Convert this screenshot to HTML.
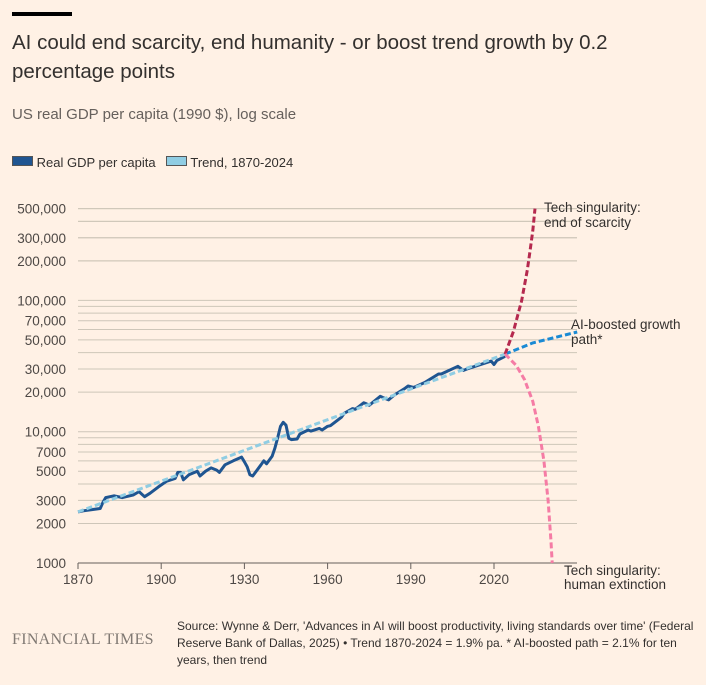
<!DOCTYPE html>
<html><head><meta charset="utf-8">
<style>
body{margin:0;background:#fff1e5;font-family:"Liberation Sans",sans-serif;color:#33302e}
#wrap{position:relative;width:706px;height:685px;overflow:hidden}
.t{position:absolute;white-space:nowrap}
</style></head><body>
<div id="wrap">
<div class="t" style="left:12px;top:12px;width:60px;height:4px;background:#000"></div>
<div class="t" style="left:12px;top:28px;font-size:20.5px;line-height:29px;color:#33302e;white-space:normal;width:660px">AI could end scarcity, end humanity - or boost trend growth by 0.2 percentage points</div>
<div class="t" style="left:12px;top:106px;font-size:15px;color:#66605c">US real GDP per capita (1990 $), log scale</div>
<div class="t" style="left:12px;top:155px;font-size:13px"><span style="display:inline-block;width:19px;height:8px;background:#1f5591;border:1px solid #555;vertical-align:1px"></span> Real GDP per capita</div>
<div class="t" style="left:166px;top:155px;font-size:13px"><span style="display:inline-block;width:19px;height:8px;background:#90cde3;border:1px solid #555;vertical-align:1px"></span> Trend, 1870-2024</div>
<svg id="chart" width="706" height="600" style="position:absolute;left:0;top:0"></svg>
<div class="t" style="left:12px;top:631px;font-family:'Liberation Serif',serif;font-size:16px;color:#807973;letter-spacing:0.3px">FINANCIAL TIMES</div>
<div class="t" style="left:177px;top:618px;width:525px;white-space:normal;font-size:12px;line-height:17px;color:#33302e">Source: Wynne &amp; Derr, 'Advances in AI will boost productivity, living standards over time' (Federal Reserve Bank of Dallas, 2025) • Trend 1870-2024 = 1.9% pa. * AI-boosted path = 2.1% for ten years, then trend</div>
</div>
<script>
const years=[1870,1872,1875,1878,1879,1880,1883,1886,1890,1892,1894,1896,1899,1902,1905,1906,1907,1908,1910,1913,1914,1916,1918,1920,1921,1923,1926,1929,1930,1931,1932,1933,1936,1937,1938,1940,1941,1942,1943,1944,1945,1946,1947,1949,1950,1953,1954,1957,1958,1960,1961,1965,1966,1969,1970,1973,1974,1975,1979,1980,1982,1984,1988,1989,1991,1995,2000,2001,2007,2009,2010,2019,2020,2021,2024];
const gdp=[2450,2500,2550,2600,2900,3150,3250,3150,3300,3500,3200,3400,3800,4200,4400,4900,4900,4300,4700,5000,4600,5000,5300,5100,4900,5600,6000,6400,5900,5400,4700,4600,5600,6000,5700,6500,7500,9000,11000,11800,11200,8900,8700,8800,9600,10300,10100,10600,10300,11000,11100,12900,13800,15000,14800,16600,16300,15900,18600,18200,17500,19000,21500,22300,21700,23700,27500,27500,31500,29300,29900,34500,32500,34800,37500];
const trendYears=[1870,2024];
const trendVals=[2450,39000];
const aiYears=[2024,2034,2050];
const aiVals=[39000,47500,57500];
const upYears=[2024,2027,2030,2032,2033,2034,2034.8];
const upVals=[39000,58000,100000,170000,240000,340000,500000];
const downYears=[2024,2028,2031,2034,2036,2038,2039.5,2040.5,2041];
const downVals=[39000,32000,25000,17000,11000,6000,3000,1500,1000];
const yTicks=[1000,2000,3000,5000,7000,10000,20000,30000,50000,70000,100000,200000,300000,500000];
const yTickLabels=["1000","2000","3000","5000","7000","10,000","20,000","30,000","50,000","70,000","100,000","200,000","300,000","500,000"];
const xTicks=[1870,1900,1930,1960,1990,2020];

const L=78,R=577,Y0=563;
const x=v=>L+(v-1870)*(494-78)/150;
const y=v=>Y0-Math.log10(v/1000)*131.3;
const svg=document.getElementById('chart');
const NS='http://www.w3.org/2000/svg';
function mk(tag,at){const e=document.createElementNS(NS,tag);for(const k in at)e.setAttribute(k,at[k]);svg.appendChild(e);return e;}
for(let d=1000;d<=100000;d*=10){for(let m=1;m<=9;m++){const v=d*m;if(v>500000)break;if(v===1000)continue;
 const g=mk('line',{x1:L,x2:R,y1:y(v),y2:y(v),stroke:'#cec6b9','stroke-width':1});
 }}
for(let m=2;m<=5;m++){const v=100000*m;const g=mk('line',{x1:L,x2:R,y1:y(v),y2:y(v),stroke:'#cec6b9','stroke-width':1});
 }
yTicks.forEach((v,i)=>{const t=mk('text',{x:66,y:y(v)+5,'text-anchor':'end','font-size':13.5,fill:'#4d4845','font-family':'Liberation Sans, sans-serif'});t.textContent=yTickLabels[i];
 });
const ax=mk('line',{x1:L,x2:R,y1:Y0,y2:Y0,stroke:'#66605c','stroke-width':1});

xTicks.forEach(v=>{const tk=mk('line',{x1:x(v),x2:x(v),y1:Y0,y2:Y0+6,stroke:'#66605c'});
 
 const t=mk('text',{x:x(v),y:Y0+21,'text-anchor':'middle','font-size':13.5,fill:'#4d4845','font-family':'Liberation Sans, sans-serif'});t.textContent=v;
 });
function path(xs,vs){return xs.map((a,i)=>(i?'L':'M')+x(a).toFixed(1)+','+y(vs[i]).toFixed(1)).join('');}
const g1=mk('path',{d:path(years,gdp),fill:'none',stroke:'#1f5591','stroke-width':3,'stroke-linejoin':'round'});

const t1=mk('path',{d:path(trendYears,trendVals),fill:'none',stroke:'#90cde3','stroke-width':3,'stroke-dasharray':'6 3'});

const a1=mk('path',{d:path(aiYears,aiVals),fill:'none',stroke:'#1a8ad4','stroke-width':3,'stroke-dasharray':'6 3'});

const u1=mk('path',{d:path(upYears,upVals),fill:'none',stroke:'#b5294e','stroke-width':3,'stroke-dasharray':'6 3'});

const d1=mk('path',{d:path(downYears,downVals),fill:'none',stroke:'#f57ca5','stroke-width':3,'stroke-dasharray':'6 3'});

function lab(txt,xx,yy,name){const t=mk('text',{x:xx,y:yy,'font-size':13.5,fill:'#33302e','font-family':'Liberation Sans, sans-serif'});t.textContent=txt;
 }
lab('Tech singularity:',544,212,'label-scarcity');lab('end of scarcity',544,227,'label-scarcity-2');
lab('AI-boosted growth',571,329,'label-ai-boosted');lab('path*',571,344,'label-ai-boosted-2');
lab('Tech singularity:',564,575,'label-extinction');lab('human extinction',564,589,'label-extinction-2');
</script>
</body></html>
